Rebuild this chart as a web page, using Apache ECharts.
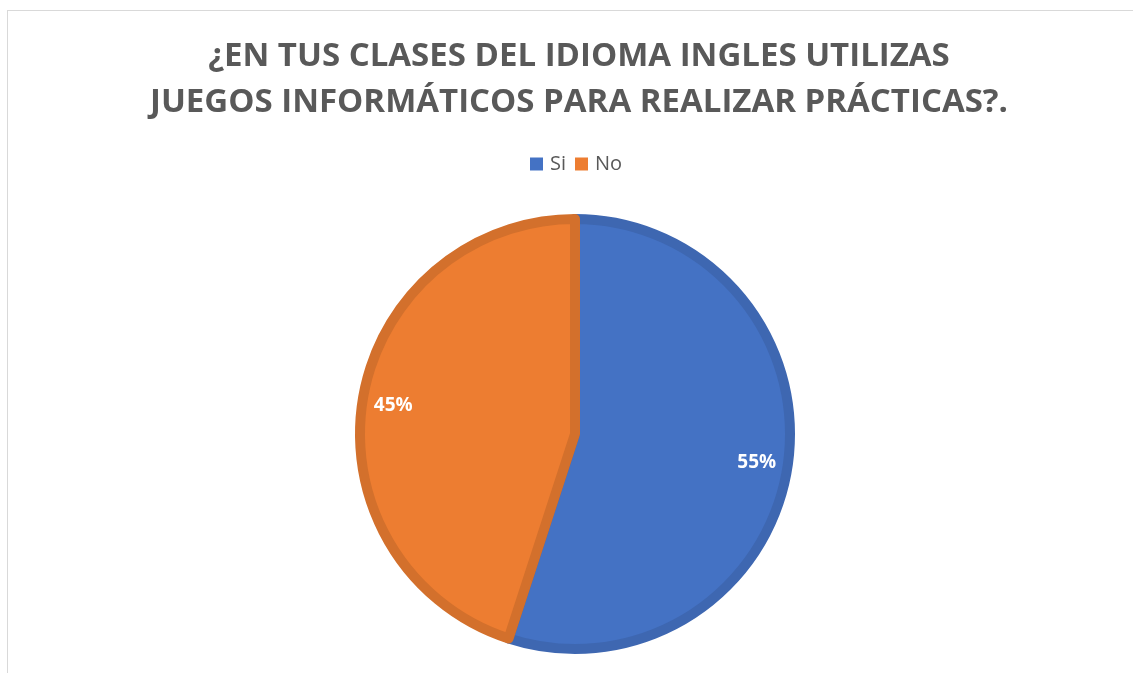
<!DOCTYPE html>
<html>
<head>
<meta charset="utf-8">
<script src="https://cdn.jsdelivr.net/npm/echarts@6/dist/echarts.min.js"></script>
<style>
  html, body { margin: 0; padding: 0; background: #fff; }
  #frame { position: absolute; left: 7px; top: 10px; width: 1140px; height: 680px; border: 1px solid #d9d9d9; }
  #chart1 { position: absolute; left: 0; top: 0; width: 1133px; height: 673px; }
</style>
</head>
<body>
<div id="frame"></div>
<div id="chart1"></div>
<script>
var categories = ['Si', 'No'];
var values = [55, 45];
var colors = ['#4472C4', '#ED7D31'];
var borders = ['#3E67B1', '#D3702C'];

var pieData = categories.map(function (name, i) {
    return { name: name, value: values[i], itemStyle: { color: colors[i], borderColor: borders[i] } };
});
// copia invisible solo para colocar las etiquetas cerca del borde
var labelData = categories.map(function (name, i) {
    return { name: name, value: values[i] };
});

var myChart1 = echarts.init(document.getElementById('chart1'));
myChart1.setOption({
    backgroundColor: 'transparent',
    title: {
        text: '¿EN TUS CLASES DEL IDIOMA INGLES UTILIZAS\nJUEGOS INFORMÁTICOS PARA REALIZAR PRÁCTICAS?.',
        left: 574,
        textAlign: 'center',
        top: 29,
        textStyle: {
            fontFamily: 'Open Sans',
            fontWeight: 'bold',
            fontSize: 33,
            lineHeight: 46,
            color: '#595959'
        }
    },
    legend: {
        top: 149,
        left: 525,
        itemWidth: 13,
        itemHeight: 13,
        itemGap: 9,
        icon: 'rect',
        data: categories.map(function (name, i) {
            return { name: name, itemStyle: { color: colors[i], borderWidth: 0 } };
        }),
        textStyle: { fontFamily: 'Open Sans', fontSize: 20, color: '#595959', padding: [0, 0, 0, 2] }
    },
    series: [
        {
            type: 'pie',
            center: [575, 434],
            radius: [0, 215],
            startAngle: 90,
            clockwise: true,
            data: pieData,
            itemStyle: { borderWidth: 10 },
            label: { show: false },
            labelLine: { show: false },
            emphasis: { disabled: true },
            animation: false
        },
        {
            type: 'pie',
            center: [575, 434],
            radius: [0, 362],
            startAngle: 90,
            clockwise: true,
            silent: true,
            data: labelData,
            itemStyle: { color: 'rgba(0,0,0,0)', borderWidth: 0 },
            label: {
                show: true,
                position: 'inside',
                formatter: '{c}%',
                fontFamily: 'Open Sans',
                fontWeight: 'bold',
                fontSize: 19,
                color: '#fff'
            },
            labelLine: { show: false },
            animation: false
        }
    ]
});

window.onresize = function () {
    myChart1.resize();
};
</script>
</body>
</html>
